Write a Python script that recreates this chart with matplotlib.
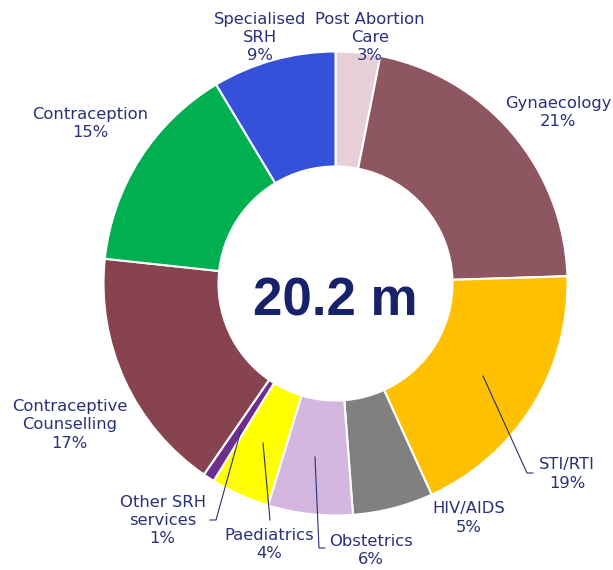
import numpy as np
import matplotlib.pyplot as plt

# share of SRH services (clockwise from 12 o'clock)
categories = ['Post Abortion\nCare', 'Gynaecology', 'STI/RTI', 'HIV/AIDS', 'Obstetrics',
              'Paediatrics', 'Other SRH\nservices', 'Contraceptive\nCounselling',
              'Contraception', 'Specialised\nSRH']
values = [3.1, 21.4, 18.7, 5.6, 5.9, 4.1, 0.8, 17.1, 14.7, 8.6]
pct_labels = ['3%', '21%', '19%', '5%', '6%', '4%', '1%', '17%', '15%', '9%']
colors = ['#E6CFD6', '#8E5661', '#FFC000', '#808080', '#D3B7DF',
          '#FFFF00', '#6F2E8C', '#874350', '#00AF50', '#3551D9']
total_text = '20.2 m'

W, H = 613, 570
txt_col = '#28317A'

fig = plt.figure(figsize=(W / 100, H / 100), dpi=100)
ax = fig.add_axes([0, 0, 1, 1])
ax.set_xlim(0, W)
ax.set_ylim(0, H)
ax.set_aspect('equal')
ax.axis('off')

cx, cy = 335.5, H - 283.5
ax.pie(values, colors=colors, startangle=90, counterclock=False,
       radius=232, center=(cx, cy), frame=True,
       wedgeprops=dict(width=115, edgecolor='white', linewidth=1.5))
ax.set_xlim(0, W)
ax.set_ylim(0, H)
ax.axis('off')

# label positions in picture pixels (x, y from top)
label_pos = [(370, 37.5), (558, 112.5), (567, 474), (469, 518), (371, 550.5),
             (269.5, 544), (162.5, 520.5), (69.7, 425), (90, 123.5), (260, 37.5)]
for name, pct, (x, y) in zip(categories, pct_labels, label_pos):
    ax.text(x, H - y, name + '\n' + pct, ha='center', va='center',
            fontsize=11.8, color=txt_col, linespacing=1.25,
            family='DejaVu Sans')

# leader lines
leaders = [
    [(483, 376), (527, 473), (533, 473)],
    [(315, 457), (319, 548), (325, 548)],
    [(263, 443), (270, 520)],
    [(241, 430), (216, 520), (210, 520)],
]
for pts in leaders:
    xs = [p[0] for p in pts]
    ys = [H - p[1] for p in pts]
    ax.plot(xs, ys, color=txt_col, linewidth=0.8)

ax.text(cx, H - 301, total_text, ha='center', va='center', fontsize=38,
        fontweight='bold', color='#17226A', family='Liberation Sans')

fig.savefig('out.png', dpi=100)
